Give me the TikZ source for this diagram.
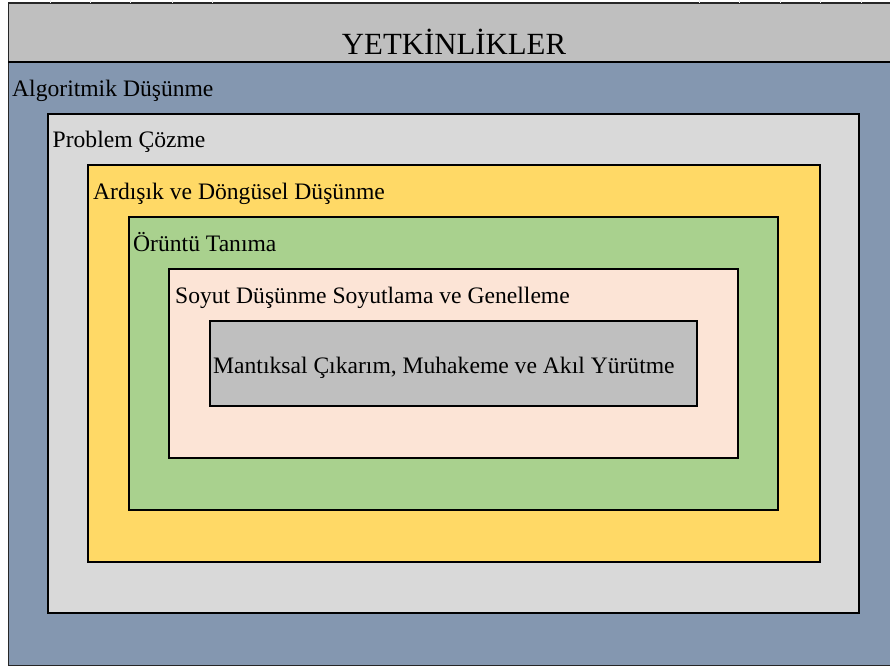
\documentclass[tikz,border=0pt]{standalone}
\usepackage{fontspec}
\setmainfont{Liberation Serif}
\definecolor{headgray}{HTML}{BFBFBF}
\definecolor{slateblue}{HTML}{8497B0}
\definecolor{lightgray}{HTML}{D9D9D9}
\definecolor{goldfill}{HTML}{FFD966}
\definecolor{greenfill}{HTML}{A9D18E}
\definecolor{peachfill}{HTML}{FCE4D6}
\definecolor{innergray}{HTML}{BFBFBF}
\begin{document}
\begin{tikzpicture}[x=1pt,y=-1pt,
  lvl/.style={draw=black, line width=2pt, anchor=north west, inner sep=0pt, outer sep=0pt},
  lbl/.style={anchor=base west, inner sep=0pt, font=\fontsize{23.6}{28}\selectfont},
  tick/.style={draw=white!85!gray, line width=1pt}]
\useasboundingbox (0,0) rectangle (890,669);
% header band and main frame
\fill[white] (0,0) rectangle (890,669);
\node[draw=black!85, line width=1.2pt, fill=headgray, anchor=north west, inner sep=0pt,
      minimum width=890pt, minimum height=59.5pt] (head) at (8,2.5) {};
\node[draw=black!85, line width=1.2pt, fill=slateblue, anchor=north west, inner sep=0pt,
      minimum width=890pt, minimum height=603pt] (frame) at (8,62) {};
\draw[black, line width=1.6pt] (8,62) -- (890,62);
% column ticks along the top edge
\foreach \t in {50,90,130,172,212,699,739,780,820,861}
  \draw[tick] (\t,0) -- (\t,3.5);
\node[anchor=base, inner sep=0pt, font=\fontsize{30.8}{36}\selectfont] (title) at (454,55) {YETKİNLİKLER};
% nested competence levels
\node[lvl, fill=lightgray, minimum width=811pt, minimum height=499pt] (pc) at (48,114) {};
\node[lvl, fill=goldfill, minimum width=732pt, minimum height=397pt] (ad) at (88,165) {};
\node[lvl, fill=greenfill, minimum width=649pt, minimum height=293pt] (or) at (129,217) {};
\node[lvl, fill=peachfill, minimum width=569pt, minimum height=189pt] (so) at (169,269) {};
\node[lvl, fill=innergray, minimum width=487pt, minimum height=85pt] (ma) at (210,321) {};
% level captions
\node[lbl] (t1) at (12,96) {Algoritmik Düşünme};
\node[lbl] (t2) at (52.5,147) {Problem Çözme};
\node[lbl] (t3) at (93,199) {Ardışık ve Döngüsel Düşünme};
\node[lbl] (t4) at (133,251) {Örüntü Tanıma};
\node[lbl] (t5) at (175,303) {Soyut Düşünme Soyutlama ve Genelleme};
\node[lbl] (t6) at (213,373) {Mantıksal Çıkarım, Muhakeme ve Akıl Yürütme};
\end{tikzpicture}
\end{document}
